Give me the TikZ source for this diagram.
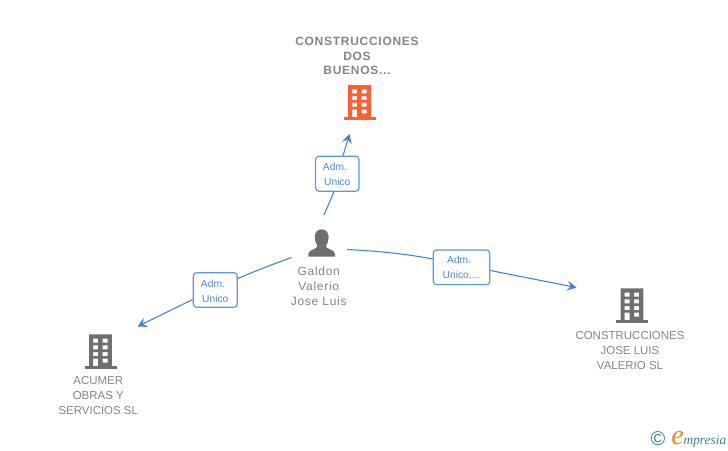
\documentclass[tikz,border=0pt]{standalone}
\usepackage{fontspec}
\setmainfont{Liberation Sans}
\newfontfamily\logofont{Liberation Serif}
\usetikzlibrary{arrows.meta}
\definecolor{linkblue}{HTML}{3F83E0}
\definecolor{labelblue}{HTML}{4A86D8}
\definecolor{namegrey}{HTML}{858585}
\definecolor{icongrey}{HTML}{6F6F6F}
\definecolor{iconred}{HTML}{FF5F2E}
\definecolor{logoteal}{HTML}{3D7F95}
\definecolor{logoorange}{HTML}{F28A1E}
\newcommand{\buildingicon}[3]{%
  \begin{scope}[shift={(#1,#2)}]
    \fill[#3,even odd rule]
      (-11.3,0) rectangle (11.3,32)
      (-7.3,4.3) rectangle (-2.3,8.3) (2,4.3) rectangle (7,8.3)
      (-7.3,11) rectangle (-2.3,15) (2,11) rectangle (7,15)
      (-7.3,17.7) rectangle (-2.3,21.7) (2,17.7) rectangle (7,21.7)
      (-7.3,24.3) rectangle (-2.3,32) (2,24.3) rectangle (7,28.3);
    \fill[#3] (-16,32) rectangle (16,34.5);
  \end{scope}}
\newcommand{\roleup}{\rule{0pt}{7.2pt}}
\tikzset{
  x=0.75pt,y=-0.75pt,
  linkline/.style={draw=linkblue,line width=0.8pt},
  linkarrow/.style={linkline,-{Stealth[length=7pt,width=7.5pt,inset=2.6pt]}},
  rolebox/.style={draw=linkblue!85,line width=0.9pt,rounded corners=2.5pt,
    inner sep=0pt,align=center,text=labelblue,font=\fontsize{7.7}{11.25}\selectfont},
  companyname/.style={align=center,inner sep=0pt,text=namegrey,font=\fontsize{8.6}{11.25}\selectfont},
  personname/.style={align=center,inner sep=0pt,text=namegrey,font=\fontsize{9}{11.25}\selectfont\addfontfeature{LetterSpace=6}},
  companytitle/.style={align=center,inner sep=0pt,text=namegrey,font=\fontsize{9}{10.9}\selectfont\bfseries\addfontfeature{LetterSpace=6}},
}
\begin{document}
\begin{tikzpicture}
\useasboundingbox (0,0) rectangle (728,450);
% icons
\buildingicon{359.5}{85}{iconred}
\buildingicon{100.5}{334.3}{icongrey}
\buildingicon{632}{288.3}{icongrey}
% person
\fill[icongrey] (321.7,229.3) .. controls (326,229.3) and (328.6,232.5) .. (328.6,237)
  .. controls (328.6,241) and (327,244) .. (326,246.5)
  .. controls (326.5,249) and (334.5,249.5) .. (335,254)
  -- (335,256.7) -- (308.3,256.7) -- (308.3,254)
  .. controls (308.9,249.5) and (316.9,249) .. (317.4,246.5)
  .. controls (316.4,244) and (314.8,241) .. (314.8,237)
  .. controls (314.8,232.5) and (317.4,229.3) .. (321.7,229.3) -- cycle;
% texts
\node[companytitle] (title) at (357,56) {CONSTRUCCIONES\\DOS\\BUENOS...};
\node[personname] (person) at (318.7,286) {Galdon\\Valerio\\Jose Luis};
\node[companyname] (acumer) at (98.3,395.5) {ACUMER\\OBRAS Y\\SERVICIOS SL};
\node[companyname] (jose) at (630,350.5) {CONSTRUCCIONES\\JOSE LUIS\\VALERIO SL};
% role boxes
\node[rolebox,minimum width=32.6pt,minimum height=26.2pt] (roleA) at (337.3,173.7) {\roleup Adm.\hspace*{3.5pt}\\Unico};
\node[rolebox,minimum width=33pt,minimum height=26pt] (roleB) at (215.3,290) {\roleup Adm.\hspace*{3.5pt}\\Unico};
\node[rolebox,minimum width=42.3pt,minimum height=26pt] (roleC) at (461.5,267.3) {\roleup Adm.\hspace*{3.5pt}\\Unico,...};
% free ends
\coordinate (startA) at (324,215);
\coordinate (endA) at (349.5,134);
\coordinate (startB) at (291.5,257.5);
\coordinate (endB) at (137.5,326.5);
\coordinate (startC) at (347,249.5);
\coordinate (endC) at (576.5,287.5);
% connectors
\draw[linkline] (startA) -- (roleA.south -| 334,0);
\draw[linkarrow] (roleA.north -| 343,0) -- (endA);
\draw[linkline] (startB) .. controls (272,264.5) and (254,271.5) .. (roleB.east |- 0,278.5);
\draw[linkarrow] (roleB.west |- 0,299.5) -- (endB);
\draw[linkline] (startC) .. controls (378,251) and (407,254) .. (roleC.west |- 0,259);
\draw[linkarrow] (roleC.east |- 0,270.5) -- (endC);
% logo
\node[inner sep=0pt,text=logoteal,font=\fontsize{15}{16}\selectfont] (copy) at (658,439) {©};
\node[inner sep=0pt,anchor=base west] (logo) at (671,444) {\logofont\itshape{\fontsize{21}{21}\selectfont\textcolor{logoorange}{e}}{\fontsize{10}{12}\selectfont\textcolor{logoteal}{mpresia}}};
\end{tikzpicture}
\end{document}
